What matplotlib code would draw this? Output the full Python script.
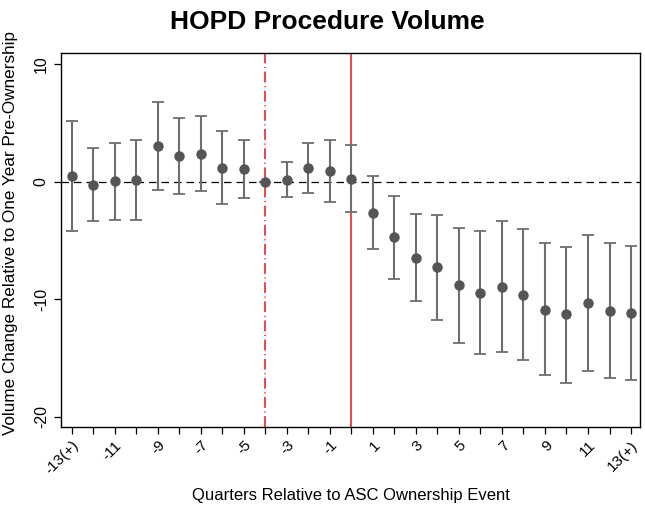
import numpy as np
import matplotlib
matplotlib.use("Agg")
import matplotlib.pyplot as plt

plt.rcParams['font.family'] = ['Liberation Sans', 'DejaVu Sans']

# event-study estimates, quarters relative to ASC ownership event
quarters = np.arange(-13, 14)
coef = [0.52, -0.30, 0.04, 0.15, 3.05, 2.17, 2.37, 1.17, 1.06, 0.0, 0.18, 1.15, 0.94,
        0.24, -2.63, -4.72, -6.46, -7.25, -8.81, -9.49, -8.93, -9.61, -10.89, -11.28,
        -10.29, -10.99, -11.16]
ci_hi = [5.2, 2.85, 3.33, 3.58, 6.82, 5.43, 5.57, 4.30, 3.58, 0.0, 1.71, 3.28, 3.53,
         3.13, 0.52, -1.18, -2.71, -2.83, -3.93, -4.21, -3.31, -4.02, -5.23, -5.52,
         -4.53, -5.23, -5.44]
ci_lo = [-4.16, -3.34, -3.25, -3.25, -0.70, -1.06, -0.78, -1.91, -1.38, 0.0, -1.32,
         -0.98, -1.69, -2.6, -5.74, -8.25, -10.2, -11.74, -13.7, -14.7, -14.5, -15.2,
         -16.5, -17.1, -16.1, -16.7, -16.9]
tick_pos = np.arange(-13, 14, 2)
tick_lab = ['-13(+)'] + [str(v) for v in tick_pos[1:-1]] + ['13(+)']

coef = np.array(coef)
yerr = np.vstack([coef - np.array(ci_lo), np.array(ci_hi) - coef])

fig = plt.figure(figsize=(6.45, 5.07), dpi=100)
ax = fig.add_axes([0.094, 0.158, 0.899, 0.737])

ax.axhline(0, color='black', lw=0.9, ls=(0, (6, 4)), zorder=1)
ax.axvline(-4, color='#e8383a', lw=1.3, ls=(0, (6, 2, 0.6, 2)), zorder=1)
ax.axvline(0, color='#e8383a', lw=1.3, zorder=1)

ax.errorbar(quarters, coef, yerr=yerr, fmt='none', ecolor='#6e6e6e', elinewidth=1.5,
            capsize=4.5, capthick=1.3, zorder=2)
ax.plot(quarters, coef, 'o', color='#555555', ms=6.5, zorder=3)

ax.set_xlim(-13.52, 13.44)
ax.set_ylim(-20.88, 10.94)
ax.set_xticks(quarters, minor=True)
ax.set_xticks(tick_pos)
ax.set_xticklabels(tick_lab, rotation=45, ha='right', va='top', rotation_mode='anchor',
                   fontsize=11)
ax.set_yticks([-20, -10, 0, 10])
ax.set_yticklabels(['-20', '-10', '0', '10'], rotation=90, va='center', fontsize=11.5)
ax.tick_params(axis='both', which='both', direction='out', length=5, width=0.9,
               color='black')
ax.tick_params(axis='x', which='both', pad=3)
for s in ax.spines.values():
    s.set_linewidth(1.0)
    s.set_color('black')

ax.set_xlabel('Quarters Relative to ASC Ownership Event', fontsize=12, labelpad=8)
ax.set_ylabel('Volume Change Relative to One Year Pre-Ownership', fontsize=12.3)
ax.yaxis.set_label_coords(-0.073, 0.519)
fig.text(0.507, 0.957, 'HOPD Procedure Volume', fontsize=19, fontweight='bold',
         ha='center', va='center')

fig.savefig('out.png', dpi=100)
